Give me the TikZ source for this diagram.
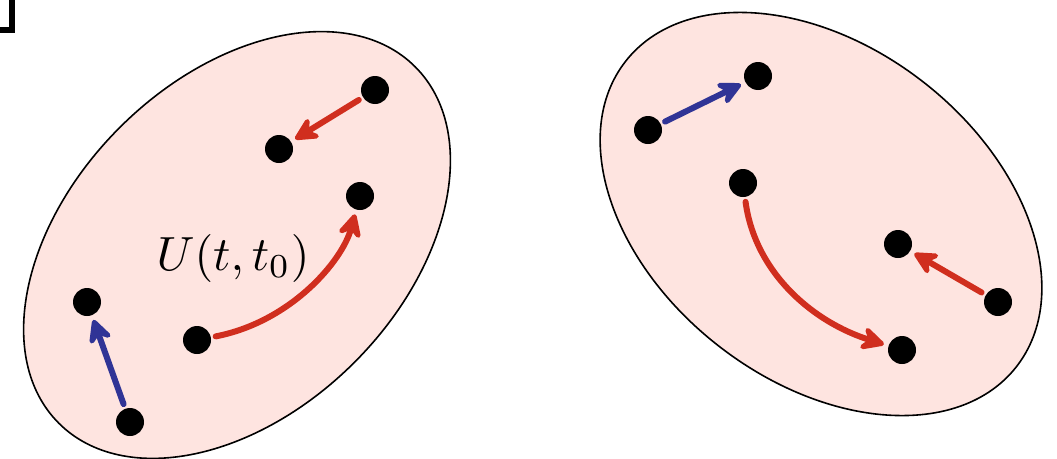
\documentclass[tikz,border=0pt]{standalone}
\usetikzlibrary{arrows.meta}
\definecolor{blobfill}{RGB}{254,228,224}
\definecolor{arrred}{RGB}{208,46,30}
\definecolor{arrblue}{RGB}{48,52,150}
\tikzset{
  bigtip/.tip={Stealth[length=30pt, width=30pt, inset=11pt, round]}
}
\begin{document}
\begin{tikzpicture}[x=1pt,y=-1pt,
  blob/.style={draw=black, line width=1.6pt, fill=blobfill},
  dot/.style={circle, fill=black, inner sep=0pt, minimum size=28pt, outer sep=5pt},
  arr/.style={line width=6pt, line cap=round, line join=round, arrows={-bigtip}},
  redarr/.style={arr, draw=arrred},
  bluearr/.style={arr, draw=arrblue}]
\useasboundingbox (0,0) rectangle (1057,458);
\fill[white] (0,0) rectangle (1057,458);
% corner frame
\draw[line width=6pt] (-30,-30) rectangle (12,30);
% ellipses
\draw[blob, rotate around={45:(237,245)}] (237,245) ellipse [x radius=252, y radius=166];
\draw[blob, rotate around={-38:(821,214)}] (821,214) ellipse [x radius=248, y radius=167];
% left dots
\node[dot] (a1) at (375,90) {};
\node[dot] (a2) at (279,149) {};
\node[dot] (b1) at (360,196) {};
\node[dot] (b2) at (197,340) {};
\node[dot] (c1) at (87,302) {};
\node[dot] (c2) at (130,422) {};
% right dots
\node[dot] (d1) at (648,130) {};
\node[dot] (d2) at (758,76) {};
\node[dot] (e1) at (743,183) {};
\node[dot] (e2) at (902,350) {};
\node[dot] (f1) at (998,302) {};
\node[dot] (f2) at (898,244) {};
% label
\node (lbl) at (233,258) {\scalebox{4.8}{$U(t,t_0)$}};
% arrows
\draw[redarr] (a1) -- (a2);
\draw[redarr] (b2) .. controls (290,322) and (342,262) .. (b1);
\draw[bluearr] (c2) -- (c1);
\draw[bluearr] (d1) -- (d2);
\draw[redarr] (e1) .. controls (755,272) and (812,322) .. (e2);
\draw[redarr] (f1) -- (f2);
\end{tikzpicture}
\end{document}
